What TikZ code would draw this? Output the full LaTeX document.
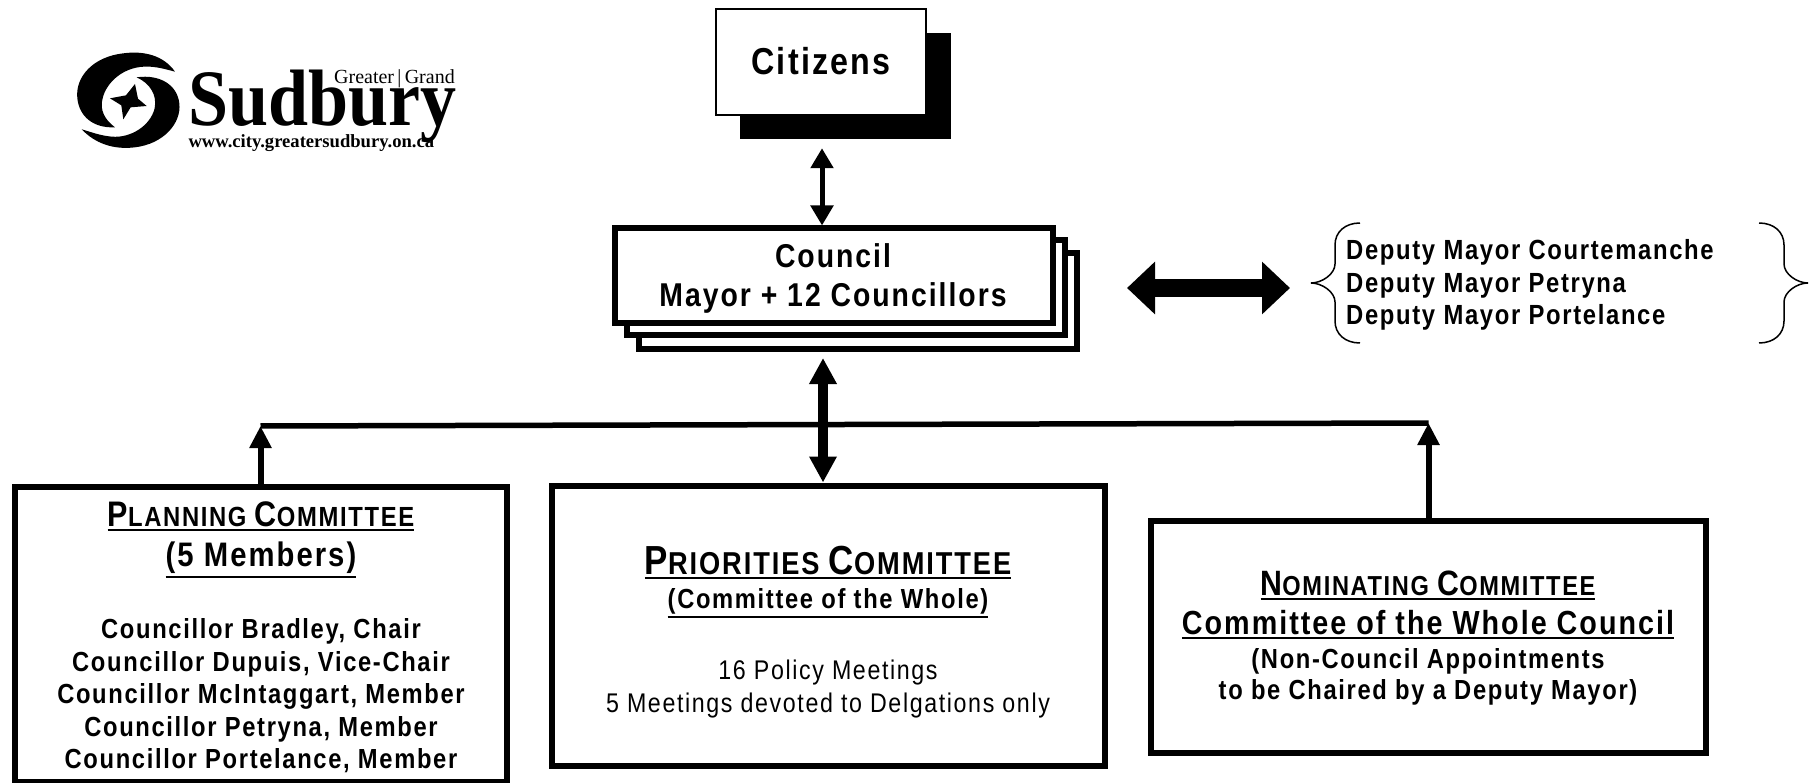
\documentclass[tikz,border=0pt]{standalone}
\usepackage{fontspec}
\usepackage{tikz}
\usetikzlibrary{arrows.meta}
\setmainfont{Liberation Sans}
\newfontfamily\boxfont[FakeStretch=0.86,LetterSpace=6]{Liberation Sans}
\newfontfamily\logofont{Liberation Serif}
\newfontfamily\logoname[FakeStretch=0.9]{Liberation Serif}
\tikzset{>={Triangle[width=22pt,length=20pt]}}
\tikzset{
  plainbox/.style={draw=black,fill=white,line width=2pt,inner sep=0pt},
  heavybox/.style={draw=black,fill=white,line width=6pt,inner sep=0pt},
  shadowbox/.style={draw=black,fill=black,inner sep=0pt},
  boxtext/.style={font=\boxfont\bfseries,align=center,inner sep=0pt},
  headtext/.style={boxtext,anchor=base},
  linkline/.style={line width=5.5pt,line cap=butt},
  bigarrow/.style={line width=10pt,{Triangle[width=26pt,length=26pt]}-{Triangle[width=26pt,length=26pt]}},
  uparrow/.style={line width=6pt,-{Triangle[width=21pt,length=22pt]}},
}
\newcommand{\CAPS}[3]{{\fontsize{#1}{#1}\selectfont #2}{\fontsize{\dimexpr#1*78/100\relax}{#1}\selectfont #3}}
\newcommand{\ULINE}[1]{\vtop{\hbox{#1}\kern2.5pt\hrule height 2.2pt}}

\begin{document}
\begin{tikzpicture}
  \useasboundingbox (0pt,0pt) rectangle (1812pt,-783pt);

  % citizens
  \node[shadowbox,minimum width=210pt,minimum height=105pt] (citshadow) at (845pt,-85.5pt) {};
  \node[plainbox,minimum width=210pt,minimum height=106pt] (citizens) at (821pt,-62pt) {};
  \node[boxtext,font=\boxfont\bfseries\fontsize{37.5pt}{40pt}\selectfont] (citlabel) at (821pt,-61pt) {Citizens};

  % council stack
  \node[heavybox,minimum width=438pt,minimum height=96pt] (councilc) at (858pt,-301pt) {};
  \node[heavybox,minimum width=438pt,minimum height=95pt] (councilb) at (845.5pt,-288pt) {};
  \node[heavybox,minimum width=438pt,minimum height=95pt] (council) at (833.5pt,-276pt) {};
  \node[boxtext,font=\boxfont\bfseries\fontsize{33pt}{39pt}\selectfont] (councillabel) at (833pt,-278pt)
  {Council\\Mayor + 12 Councillors};

  % deputy mayors
  \node[boxtext,align=left,anchor=west,font=\boxfont\bfseries\fontsize{27.7pt}{32.4pt}\selectfont] (deputies) at (1346pt,-285pt)
  {Deputy Mayor Courtemanche\\Deputy Mayor Petryna\\Deputy Mayor Portelance};
  \coordinate (leftbrace) at (1311pt,-283pt);
  \coordinate (rightbrace) at (1808pt,-283pt);
  \draw[line width=1.5pt] (1360pt,-223pt) .. controls (1345pt,-223pt) and (1335pt,-232pt) .. (1335pt,-245pt)
  -- (1335pt,-264pt) .. controls (1335pt,-274pt) and (1322pt,-283pt) .. (leftbrace)
  .. controls (1322pt,-283pt) and (1335pt,-292pt) .. (1335pt,-302pt)
  -- (1335pt,-321pt) .. controls (1335pt,-334pt) and (1345pt,-343pt) .. (1360pt,-343pt);
  \draw[line width=1.5pt] (1759pt,-223pt) .. controls (1774pt,-223pt) and (1784pt,-232pt) .. (1784pt,-245pt)
  -- (1784pt,-264pt) .. controls (1784pt,-274pt) and (1797pt,-283pt) .. (rightbrace)
  .. controls (1797pt,-283pt) and (1784pt,-292pt) .. (1784pt,-302pt)
  -- (1784pt,-321pt) .. controls (1784pt,-334pt) and (1774pt,-343pt) .. (1759pt,-343pt);

  % committees
  \node[heavybox,minimum width=492pt,minimum height=295pt] (planning) at (260.5pt,-634pt) {};
  \node[headtext] (planninghead) at (261pt,-526pt)
  {\ULINE{\fontsize{28pt}{30pt}\selectfont\CAPS{35.5pt}{P}{LANNING} \CAPS{35.5pt}{C}{OMMITTEE}}};
  \node[headtext] (planningsize) at (261pt,-566pt)
  {\ULINE{\fontsize{34pt}{38pt}\selectfont (5 Members)}};
  \node[boxtext,anchor=south,font=\boxfont\bfseries\fontsize{27.6pt}{32.4pt}\selectfont] (planningnames) at (261pt,-773pt)
  {Councillor Bradley, Chair\\Councillor Dupuis, Vice-Chair\\Councillor McIntaggart, Member\\Councillor Petryna, Member\\Councillor Portelance, Member};

  \node[heavybox,minimum width=553pt,minimum height=280pt] (priorities) at (828.5pt,-625.5pt) {};
  \node[headtext] (prioritieshead) at (828pt,-574pt)
  {\ULINE{\fontsize{31.5pt}{34pt}\selectfont\CAPS{40.6pt}{P}{RIORITIES} \CAPS{40.6pt}{C}{OMMITTEE}}};
  \node[headtext] (prioritiesnote) at (828pt,-608pt)
  {\ULINE{\fontsize{27.6pt}{32pt}\selectfont (Committee of the Whole)}};
  \node[align=center,inner sep=0pt,font=\boxfont\fontsize{27pt}{32.4pt}\selectfont] (prioritiesnotes) at (828pt,-689pt)
  {16 Policy Meetings\\5 Meetings devoted to Delgations only};

  \node[heavybox,minimum width=555pt,minimum height=232pt] (nominating) at (1428.5pt,-637pt) {};
  \node[headtext] (nominatinghead) at (1428pt,-595pt)
  {\ULINE{\fontsize{28pt}{30pt}\selectfont\CAPS{35.2pt}{N}{OMINATING} \CAPS{35.2pt}{C}{OMMITTEE}}};
  \node[headtext] (nominatingwhole) at (1428pt,-634pt)
  {\ULINE{\fontsize{33.4pt}{38pt}\selectfont Committee of the Whole Council}};
  \node[boxtext,anchor=base,font=\boxfont\bfseries\fontsize{27.6pt}{31pt}\selectfont] (nominatingnotes) at (1428pt,-699pt)
  {(Non-Council Appointments\\to be Chaired by a Deputy Mayor)};

  % links
  \coordinate (busleft) at (260.5pt,-426pt);
  \coordinate (busright) at (1428.5pt,-423pt);
  \coordinate (spine) at (823pt,-425pt);
  \draw[linkline] (busleft) -- (busright);
  \draw[uparrow] (planning.north) -- (busleft);
  \draw[uparrow] (nominating.north) -- (busright);
  \draw[<->,line width=5pt] (citlabel.center |- citshadow.south) ++(1pt,-10pt) coordinate (citlink) -- (citlink |- council.north);
  \draw[bigarrow] (spine |- councilc.south) ++(0pt,-6pt) coordinate (councillink) -- (spine |- priorities.north);
  \coordinate (blockleft) at (1127pt,-288pt);
  \coordinate (blockright) at (1290pt,-288pt);
  \draw[line width=18pt,{Triangle[width=51pt,length=28pt]}-{Triangle[width=51pt,length=28pt]}] (blockleft) -- (blockright);

  % logo
  \begin{scope}[shift={(40pt,-20pt)},x=0.3333pt,y=-0.3333pt]
  \fill[black] (405,155) .. controls (370,105) and (310,92) .. (250,100)
  .. controls (160,110) and (105,170) .. (112,235)
  .. controls (118,290) and (160,325) .. (225,322)
  .. controls (195,300) and (178,270) .. (188,235)
  .. controls (198,190) and (250,135) .. (330,140)
  .. controls (360,142) and (385,150) .. (405,155) -- cycle;
  \fill[black] (125,328) .. controls (165,370) and (220,390) .. (285,382)
  .. controls (370,372) and (425,310) .. (418,250)
  .. controls (412,195) and (360,162) .. (290,172)
  .. controls (330,190) and (352,225) .. (344,265)
  .. controls (332,315) and (275,355) .. (215,350)
  .. controls (180,347) and (150,335) .. (125,328) -- cycle;
  \fill[black] (285,192) -- (294,236) -- (320,258) -- (272,262) -- (250,298)
  -- (244,256) -- (210,235) -- (258,226) -- cycle;
  \node[anchor=west,inner sep=0pt,font=\logoname\bfseries\fontsize{80pt}{82pt}\selectfont] (logotitle) at (445,258) {Sudbury};
  \node[anchor=east,inner sep=0pt,font=\logofont\fontsize{20pt}{22pt}\selectfont] (logogrand) at (1245,177) {Greater\,|\,Grand};
  \node[anchor=west,inner sep=0pt,font=\logofont\bfseries\fontsize{18.6pt}{20pt}\selectfont] (logourl) at (445,368) {www.city.greatersudbury.on.ca};
  \end{scope}
\end{tikzpicture}
\end{document}
